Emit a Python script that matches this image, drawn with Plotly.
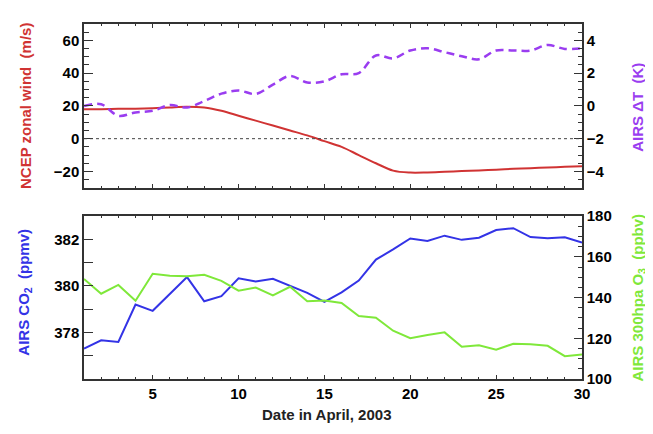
import plotly.graph_objects as go

days = list(range(1, 31))
wind = [18, 18, 18.2, 18.3, 18.6, 19.1, 19.5, 19, 17, 14, 11, 8, 5, 2, -1.5, -5, -10, -15,
        -19.5, -20.7, -20.6, -20.2, -19.8, -19.4, -18.9, -18.4, -18, -17.6, -17.2, -16.8]
dT = [0.0, 0.1, -0.6, -0.4, -0.3, 0.05, -0.1, 0.3, 0.75, 0.94, 0.73, 1.3, 1.83, 1.43, 1.5,
      1.93, 2.0, 3.08, 2.9, 3.38, 3.52, 3.28, 3.03, 2.85, 3.38, 3.38, 3.38, 3.72, 3.48, 3.52]
co2 = [377.31, 377.66, 377.59, 379.2, 378.93, 379.65, 380.38, 379.34, 379.56, 380.33,
       380.19, 380.31, 380.0, 379.7, 379.31, 379.72, 380.23, 381.13, 381.57, 382.04,
       381.93, 382.16, 381.98, 382.07, 382.4, 382.48, 382.1, 382.05, 382.09, 381.86]
o3 = [149.1, 141.9, 146.2, 138.4, 151.7, 150.7, 150.5, 151.2, 148.2, 143.4, 144.9, 141.1,
      145.3, 138.2, 138.6, 137.3, 130.9, 130.1, 123.7, 120.0, 121.6, 122.9, 115.8, 116.6,
      114.4, 117.3, 117.1, 116.3, 111.2, 112.0]

RED = "#d03333"
PURPLE = "#9a3df0"
BLUE = "#3333e6"
GREEN = "#7fe83a"
AX = "#333333"

fig = go.Figure()
fig.add_trace(go.Scatter(x=days, y=wind, mode="lines", line=dict(color=RED, width=2, shape="spline"),
                         xaxis="x", yaxis="y"))
fig.add_trace(go.Scatter(x=days, y=dT, mode="lines",
                         line=dict(color=PURPLE, width=2.5, dash="8px,5px", shape="spline"),
                         xaxis="x", yaxis="y2"))
fig.add_trace(go.Scatter(x=days, y=co2, mode="lines", line=dict(color=BLUE, width=2),
                         xaxis="x2", yaxis="y3"))
fig.add_trace(go.Scatter(x=days, y=o3, mode="lines", line=dict(color=GREEN, width=2),
                         xaxis="x2", yaxis="y4"))

tickfont = dict(family="Liberation Sans, Arial", size=15, color="black", weight="bold")
common = dict(showline=True, linecolor=AX, linewidth=1.5, ticks="inside", tickcolor=AX,
              showgrid=False, zeroline=False, tickfont=tickfont)

top_dom = [0.5385, 1.0]
bot_dom = [0.0, 0.4588]

fig.update_layout(
    width=645, height=426,
    margin=dict(l=76, r=71, t=7, b=55),
    paper_bgcolor="white", plot_bgcolor="white",
    showlegend=False,
    xaxis=dict(domain=[0, 1], anchor="y", range=[1, 30], dtick=5, tick0=0, ticklen=4,
               showticklabels=False, mirror="ticks",
               minor=dict(dtick=1, ticks="inside", ticklen=2, tickcolor=AX), **common),
    yaxis=dict(domain=top_dom, anchor="x", range=[-30, 70], tickvals=[-20, 0, 20, 40, 60],
               ticklen=9, minor=dict(dtick=5, tick0=0, ticks="inside", ticklen=5, tickcolor=AX),
               **common),
    yaxis2=dict(overlaying="y", side="right", anchor="x", range=[-5, 5],
                tickvals=[-4, -2, 0, 2, 4], ticklen=8,
                minor=dict(dtick=0.5, tick0=0, ticks="inside", ticklen=4, tickcolor=AX), **common),
    xaxis2=dict(domain=[0, 1], anchor="y3", range=[1, 30], tickvals=[5, 10, 15, 20, 25, 30],
                ticklen=4, mirror="ticks",
                minor=dict(dtick=1, tick0=0, ticks="inside", ticklen=2, tickcolor=AX), **common),
    yaxis3=dict(domain=bot_dom, anchor="x2", range=[376, 383], tickvals=[378, 380, 382],
                ticklen=9, minor=dict(tickvals=[377, 379, 381], ticks="inside", ticklen=9, tickcolor=AX),
                **common),
    yaxis4=dict(overlaying="y3", side="right", anchor="x2", range=[100, 180],
                tickvals=[100, 120, 140, 160, 180], ticklen=8,
                minor=dict(dtick=5, tick0=0, ticks="inside", ticklen=4, tickcolor=AX), **common),
)

fig.add_shape(type="line", xref="x domain", yref="y", x0=0, x1=1, y0=0, y1=0,
              line=dict(color="#444444", width=1, dash="dot"))

tfont = dict(family="Liberation Sans, Arial", size=15, weight="bold")
NB = "\u00a0"
fig.add_annotation(text=f"NCEP zonal wind{NB}{NB}(m/s)", xref="paper", yref="paper",
                   x=-0.1185, y=0.769, textangle=-90, showarrow=False,
                   font=dict(color=RED, **tfont), xanchor="center", yanchor="middle")
fig.add_annotation(text=f"AIRS ΔT{NB}{NB}(K)", xref="paper", yref="paper",
                   x=1.110, y=0.766, textangle=-90, showarrow=False,
                   font=dict(color=PURPLE, **tfont), xanchor="center", yanchor="middle")
fig.add_annotation(text=f"AIRS CO<sub>2</sub>{NB}{NB}(ppmv)", xref="paper", yref="paper",
                   x=-0.1185, y=0.246, textangle=-90, showarrow=False,
                   font=dict(color=BLUE, **tfont), xanchor="center", yanchor="middle")
fig.add_annotation(text=f"AIRS 300hpa O<sub>3</sub>{NB}{NB}(ppbv)", xref="paper", yref="paper",
                   x=1.114, y=0.229, textangle=-90, showarrow=False,
                   font=dict(color=GREEN, **tfont), xanchor="center", yanchor="middle")
fig.add_annotation(text="Date in April, 2003", xref="paper", yref="paper",
                   x=0.488, y=-0.099, showarrow=False,
                   font=dict(color="#222222", **tfont), xanchor="center", yanchor="middle")

fig.write_html("out.html")
